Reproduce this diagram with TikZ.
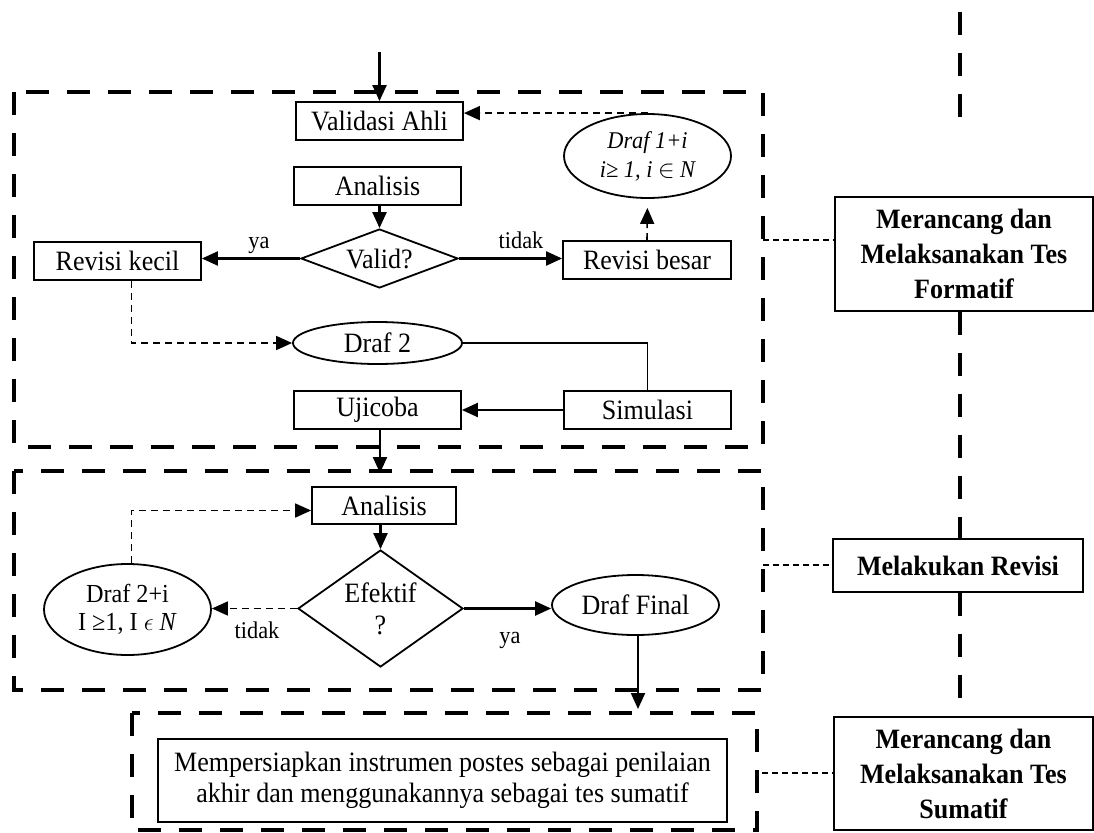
\documentclass[tikz,border=0pt]{standalone}
\usepackage{fontspec}
\setmainfont{Liberation Serif}[FakeStretch=0.93]
\usetikzlibrary{arrows.meta,shapes.geometric}
\begin{document}
\begin{tikzpicture}[x=1pt,y=-1pt,
  big/.style={line width=4.5pt, dash pattern=on 23pt off 18pt},
  tdash/.style={line width=1.3pt, dash pattern=on 6pt off 4pt},
  box/.style={draw, line width=1.8pt, inner sep=0pt, align=center, font=\fontsize{28}{31}\selectfont},
  bbox/.style={draw, line width=1.8pt, inner sep=0pt, align=center, font=\fontsize{28}{35}\selectfont\bfseries},
  ell/.style={draw, ellipse, line width=1.8pt, inner sep=0pt, align=center, font=\fontsize{28}{31}\selectfont},
  diam/.style={draw, diamond, line width=1.8pt, inner sep=0pt, align=center, font=\fontsize{28}{32}\selectfont},
  conn/.style={line width=1.6pt},
  arr/.style={line width=2.2pt, -{Triangle[length=16pt,width=14pt]}},
  darr/.style={line width=1.6pt, dash pattern=on 7pt off 5pt, -{Triangle[length=16pt,width=14pt]}},
  lab/.style={inner sep=0pt, font=\fontsize{24}{27}\selectfont}
]
\useasboundingbox (0,0) rectangle (1094,832);
\fill[white] (0,0) rectangle (1094,832);

% frames
\draw[big] (14,92) rectangle (763,447);
\draw[big] (14,471) rectangle (763,690);
\draw[big] (132,713) rectangle (757,830);

% nodes of frame 1
\node[box, minimum width=167, minimum height=38] (valid) at (379.5,121) {Validasi Ahli};
\node[box, minimum width=167, minimum height=38] (anal1) at (377.5,186) {Analisis};
\node[diam, minimum width=157, minimum height=59, aspect=2.66] (validq) at (379.5,258.5) {Valid?};
\node[box, minimum width=167, minimum height=38] (revk) at (117.5,261) {Revisi kecil};
\node[box, minimum width=168, minimum height=38] (revb) at (647,260) {Revisi besar};
\node[ell, minimum width=167, minimum height=84, font=\fontsize{24}{29}\selectfont\itshape] (d1) at (647.5,156) {Draf 1+i\\i≥ 1, i $\in$ N};
\node[ell, minimum width=169, minimum height=42] (draf2) at (377.5,343) {Draf 2};
\node[box, minimum width=167, minimum height=38] (uji) at (377.5,410) {Ujicoba};
\node[box, minimum width=167, minimum height=38] (sim) at (647.5,410) {Simulasi};

% nodes of frame 2
\node[box, minimum width=144, minimum height=37] (anal2) at (384,505.5) {Analisis};
\node[diam, minimum width=165, minimum height=117, aspect=1.41] (ef) at (380.5,608.5) {Efektif\\?};
\node[ell, minimum width=167, minimum height=91, font=\fontsize{26}{28}\selectfont] (d2i) at (127.5,609.5) {Draf 2+i\\I ≥1, I $\epsilon$ \textit{N}};
\node[ell, minimum width=167, minimum height=60] (dfin) at (635.5,605) {Draf Final};

% frame 3
\node[box, minimum width=569, minimum height=83, font=\fontsize{28}{31}\selectfont] (sumtxt) at (442.5,780.5) {Mempersiapkan instrumen postes sebagai penilaian\\akhir dan menggunakannya sebagai tes sumatif};

% right column
\node[bbox, minimum width=258, minimum height=114] (form) at (964,254) {Merancang dan\\Melaksanakan Tes\\Formatif};
\node[bbox, minimum width=250, minimum height=53] (rev) at (958,565.5) {Melakukan Revisi};
\node[bbox, minimum width=259, minimum height=113] (sumb) at (963.5,773.5) {Merancang dan\\Melaksanakan Tes\\Sumatif};

% spine
\coordinate (spt) at (960,12);
\coordinate (spb) at (960,118);
\draw[big] (spt) -- (spb);
\draw[big] (form.south -| spt) -- (rev.north -| spt);
\draw[big] (rev.south -| spt) -- (sumb.north -| spt);

% thin dashed links
\coordinate (l1) at (763,240);
\coordinate (l2) at (763,565);
\coordinate (l3) at (762,773);
\draw[tdash] (l1) -- (l1 -| form.west);
\draw[tdash] (l2) -- (l2 -| rev.west);
\draw[tdash] (l3) -- (l3 -| sumb.west);

% connectors frame 1
\coordinate (start) at (379.5,52);
\draw[arr] (start) -- (valid.north);
\draw[darr] (d1.north) -- (d1.north -| valid.east);
\draw[arr] (anal1.south -| validq.north) -- (validq.north);
\draw[arr] (validq.west) -- (validq.west -| revk.east);
\draw[arr] (validq.east) -- (validq.east -| revb.west);
\node[lab] (lya1) at (259,245) {ya};
\node[lab] (ltd1) at (521,240) {tidak};
\draw[darr, shorten >=9pt] (revb.north) -- (d1.south);
\draw[darr] ([xshift=14pt]revk.south) |- (draf2.west);
\draw[conn] (draf2.east) -| (sim.north);
\draw[arr] (sim.west) -- (uji.east);
\coordinate (ujiend) at (380,473);
\draw[arr] (uji.south -| ujiend) -- (ujiend);

% connectors frame 2
\draw[arr] (anal2.south -| ef.north) -- (ef.north);
\draw[darr] (ef.west) -- (ef.west -| d2i.east);
\draw[darr] ([xshift=4pt]d2i.north) |- ([yshift=-5pt]anal2.west);
\draw[arr] (ef.east) -- (ef.east -| dfin.west);
\node[lab] (ltd2) at (257,630) {tidak};
\node[lab] (lya2) at (510,640) {ya};
\coordinate (finend) at (638,709);
\draw[arr] (dfin.south -| finend) -- (finend);
\end{tikzpicture}
\end{document}
